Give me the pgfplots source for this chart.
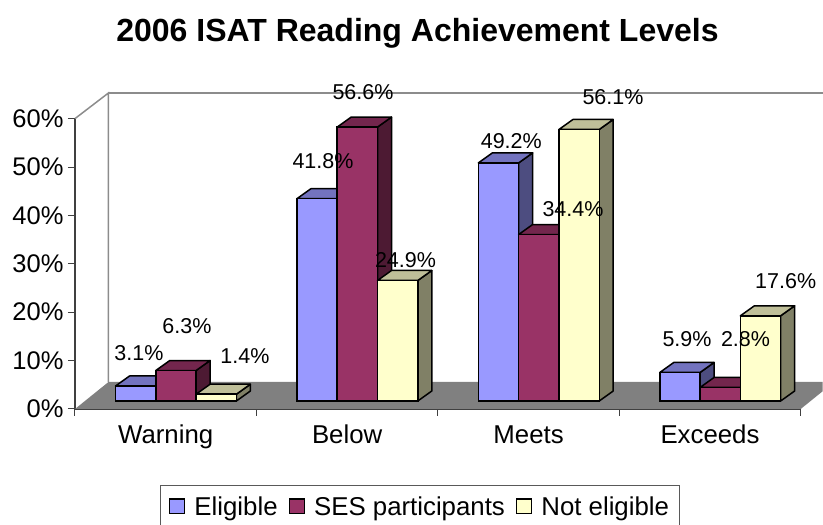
\documentclass[border=0pt]{standalone}
\usepackage{fontspec}
\setmainfont{Liberation Sans}
\usepackage{pgfplots}
\usepackage{pgfplotstable}
\pgfplotsset{compat=1.18}

\definecolor{eligF}{HTML}{9999FF}
\definecolor{eligT}{HTML}{7373BF}
\definecolor{eligS}{HTML}{4D4D80}
\definecolor{sesF}{HTML}{993366}
\definecolor{sesT}{HTML}{73264D}
\definecolor{sesS}{HTML}{4D1A33}
\definecolor{notF}{HTML}{FFFFCC}
\definecolor{notT}{HTML}{BFBF99}
\definecolor{notS}{HTML}{808066}

% reading levels, percent
\pgfplotstableread{
x    elig  ses   not
0.5  3.1   6.3   1.4
1.5  41.8  56.6  24.9
2.5  49.2  34.4  56.1
3.5  5.9   2.8   17.6
}\isat

% 1 px of the reference = 1pt here
\pgfmathsetmacro{\pxx}{1/181.5}
\pgfmathsetmacro{\pxy}{1/4.84}

\pgfplotsset{
  barface/.style={ybar, bar width=40.3pt, draw=black, line width=1.5pt, xshift=10.25pt, yshift=8pt, forget plot},
  depthface/.style={draw=black, line width=1.5pt, line join=round, xshift=10.25pt, yshift=8pt, forget plot, no markers},
}

% side and top of the bars of one series: column, slot, top colour, side colour
\newcommand{\depthfaces}[4]{%
  \pgfplotsforeachungrouped \i in {0,1,2,3}{%
    \pgfplotstablegetelem{\i}{x}\of\isat \let\cx\pgfplotsretval
    \pgfplotstablegetelem{\i}{#1}\of\isat \let\val\pgfplotsretval
    \pgfmathsetmacro{\xl}{\cx+(#2-0.5)*40.3*\pxx}
    \pgfmathsetmacro{\xr}{\cx+(#2+0.5)*40.3*\pxx}
    \pgfmathsetmacro{\xrd}{\xr+14*\pxx}
    \pgfmathsetmacro{\xld}{\xl+14*\pxx}
    \pgfmathsetmacro{\dy}{10*\pxy}
    \pgfmathsetmacro{\vd}{\val+\dy}
    \edef\temp{%
      \noexpand\addplot[depthface, fill=#4] coordinates {(\xr,0) (\xrd,\dy) (\xrd,\vd) (\xr,\val)} --cycle;
      \noexpand\addplot[depthface, fill=#3] coordinates {(\xl,\val) (\xr,\val) (\xrd,\vd) (\xld,\vd)} --cycle;
    }\temp
  }%
}

\newcommand{\dlabel}[3]{\node[font=\fontsize{21.5}{26}\selectfont, inner sep=0pt] at (#1pt,{(525-#2)*1pt}) {#3\%};}

\begin{document}
\begin{tikzpicture}
\path[use as bounding box] (0pt,0pt) rectangle (823pt,525pt);
\begin{axis}[
  at={(75pt,116pt)},
  anchor=south west,
  scale only axis,
  width=725.7pt,
  height=290.4pt,
  xmin=0, xmax=4,
  ymin=0, ymax=60,
  clip=false,
  axis lines=left,
  axis line style={-, black!75, line width=1.2pt},
  xtick={0,1,2,3,4},
  xticklabels={Warning,Below,Meets,Exceeds},
  x tick label as interval,
  ytick={0,10,20,30,40,50,60},
  yticklabels={0\%,10\%,20\%,30\%,40\%,50\%,60\%},
  tick align=outside,
  major tick length=7pt,
  tick style={black!75, line width=1pt},
  yticklabel style={font=\fontsize{25.5}{30}\selectfont, xshift=-1pt},
  xticklabel style={font=\fontsize{25.8}{30}\selectfont, text height=18.5pt, text depth=5.5pt, yshift=-5pt},
  legend columns=3,
  legend style={
    at={(0.1178,-0.2617)}, anchor=north west,
    draw=black!65, line width=1pt,
    font=\fontsize{25.8}{30}\selectfont,
    inner xsep=8pt, inner ysep=9pt,
    /tikz/every odd column/.append style={column sep=7pt},
    /tikz/every even column/.append style={column sep=9pt},
  },
  legend cell align=left,
]
% back wall and floor
\addplot[draw=black!45, line width=1.5pt, forget plot] coordinates {(0,60) (0.1846,65.3) (0.1846,5.58)};
\addplot[draw=black!45, line width=1.5pt, forget plot] coordinates {(0.1846,65.3) (4.121,65.3)};
\addplot[fill={rgb,255:red,128;green,128;blue,128}, draw=none, forget plot] coordinates {(0,0) (0.1846,5.58) (4.121,5.58) (4.121,3.66) (4,0)} --cycle;

\depthfaces{elig}{-1}{eligT}{eligS}
\addplot[barface, bar shift=-40.3pt, fill=eligF] table[x=x, y=elig] {\isat};
\depthfaces{ses}{0}{sesT}{sesS}
\addplot[barface, bar shift=0pt, fill=sesF] table[x=x, y=ses] {\isat};
\depthfaces{not}{1}{notT}{notS}
\addplot[barface, bar shift=40.3pt, fill=notF] table[x=x, y=not] {\isat};

\addlegendimage{legend image code/.code={\draw[fill=eligF, draw=black, line width=1.5pt] (0pt,-7pt) rectangle (15pt,7.5pt);}}
\addlegendentry{Eligible}
\addlegendimage{legend image code/.code={\draw[fill=sesF, draw=black, line width=1.5pt] (0pt,-7pt) rectangle (15pt,7.5pt);}}
\addlegendentry{SES participants}
\addlegendimage{legend image code/.code={\draw[fill=notF, draw=black, line width=1.5pt] (0pt,-7pt) rectangle (15pt,7.5pt);}}
\addlegendentry{Not eligible}
\end{axis}

\node[font=\fontsize{32}{38}\selectfont\bfseries, inner sep=0pt] at (417.5pt,491.5pt) {2006 ISAT Reading Achievement Levels};

\dlabel{139}{353}{3.1}
\dlabel{187}{325.7}{6.3}
\dlabel{245}{355.7}{1.4}
\dlabel{323}{161}{41.8}
\dlabel{363}{92}{56.6}
\dlabel{405.5}{260}{24.9}
\dlabel{511.3}{141.3}{49.2}
\dlabel{573}{209}{34.4}
\dlabel{613}{97.3}{56.1}
\dlabel{687}{339}{5.9}
\dlabel{745.5}{339}{2.8}
\dlabel{785.7}{281}{17.6}
\end{tikzpicture}
\end{document}
